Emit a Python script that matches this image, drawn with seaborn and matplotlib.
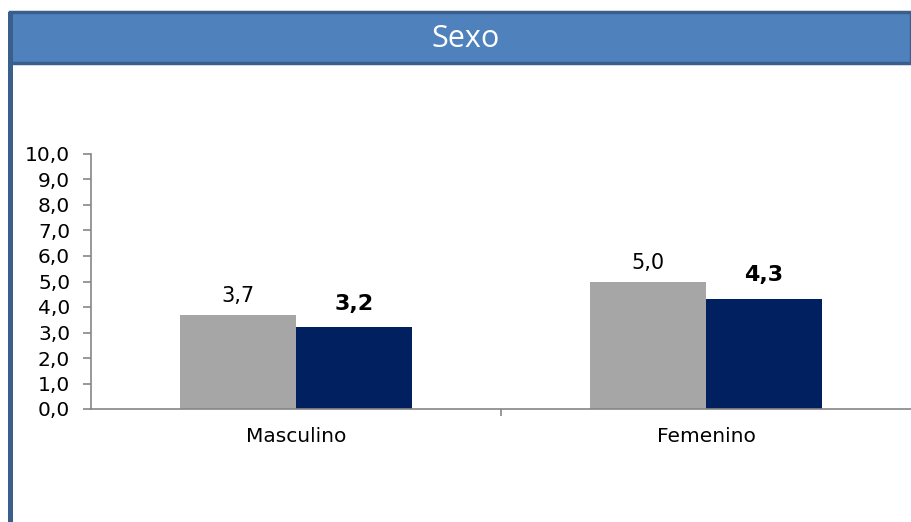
import matplotlib
matplotlib.use('Agg')
import matplotlib.pyplot as plt
import seaborn as sns
import pandas as pd
from matplotlib.patches import Rectangle
from matplotlib.ticker import FuncFormatter

# data
categorias = ['Masculino', 'Femenino']
serie_1 = [3.7, 5.0]
serie_2 = [3.2, 4.3]
series = ['Serie 1', 'Serie 2']
titulo = 'Sexo'

colores = ['#A6A6A6', '#002060']
borde = '#3A5F8C'
banda = '#4F81BD'

df = pd.DataFrame({
    'sexo': categorias * 2,
    'valor': serie_1 + serie_2,
    'serie': [series[0]] * len(categorias) + [series[1]] * len(categorias),
})

sns.set_style('white')
plt.rcParams['font.family'] = ['DejaVu Sans']
plt.rcParams['text.color'] = 'black'
plt.rcParams['xtick.color'] = 'black'
plt.rcParams['ytick.color'] = 'black'

W, H = 911, 522
fig = plt.figure(figsize=(W / 100, H / 100), dpi=100)

# title band and frame
fig.patches.append(Rectangle((10 / W, 1 - 63 / H), 1 - 10 / W, 51 / H,
                             transform=fig.transFigure, facecolor=banda,
                             edgecolor=borde, linewidth=2.5, zorder=1))
fig.patches.append(Rectangle((8 / W, 0), 4.5 / W, 1 - 12 / H,
                             transform=fig.transFigure, facecolor=borde,
                             edgecolor='none', zorder=2))
fig.text(466 / W, 1 - 39 / H, titulo, color='white', fontsize=22,
         ha='center', va='center', family=['Open Sans', 'DejaVu Sans'])

ax = fig.add_axes([91 / W, 1 - 409 / H, 1 - 91 / W, (409 - 154) / H])
sns.barplot(data=df, x='sexo', y='valor', hue='serie', palette=colores,
            width=0.566, gap=0, saturation=1, legend=False, linewidth=0,
            ax=ax)

ax.set_ylim(0, 10)
ax.set_xlim(-0.5, 1.5)
ax.set_yticks(range(0, 11))
ax.yaxis.set_major_formatter(FuncFormatter(lambda v, p: f'{v:.1f}'.replace('.', ',')))
ax.set_xlabel('')
ax.set_ylabel('')

for spine in ['top', 'right']:
    ax.spines[spine].set_visible(False)
for spine in ['left', 'bottom']:
    ax.spines[spine].set_color('#868686')
    ax.spines[spine].set_linewidth(1.2)

ax.tick_params(axis='y', which='major', left=True, length=6, width=1.2,
               color='#868686', labelsize=14.5, pad=9)
ax.tick_params(axis='x', which='major', length=0, labelsize=14.5, pad=13)
ax.set_xticks([0.5], minor=True)
ax.tick_params(axis='x', which='minor', bottom=True, length=5, width=1.2,
               color='#868686')

fmt = lambda v: f'{v:.1f}'.replace('.', ',')
ax.bar_label(ax.containers[0], labels=[fmt(v) for v in serie_1],
             padding=6, fontsize=15)
ax.bar_label(ax.containers[1], labels=[fmt(v) for v in serie_2],
             padding=10, fontsize=16, fontweight='bold')

fig.savefig('out.png', dpi=100)
